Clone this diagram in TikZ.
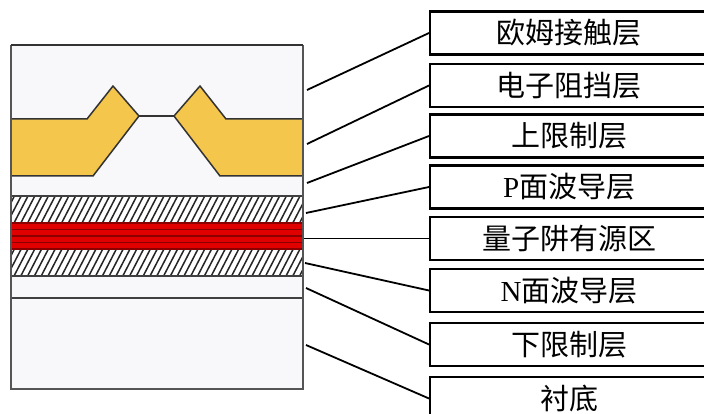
\documentclass[tikz,border=0pt]{standalone}
\usepackage{fontspec}
\newfontfamily\cjk{Noto Sans CJK SC}
\newfontfamily\latinserif{Liberation Serif}
\definecolor{layerbg}{HTML}{F8F8FA}
\definecolor{metal}{HTML}{F5C64C}
\definecolor{qwred}{HTML}{E00000}
\definecolor{qwdark}{HTML}{8A0000}
\definecolor{edgegray}{HTML}{555555}
\begin{document}
\begin{tikzpicture}[x=1pt,y=-1pt,
  labelbox/.style={draw=black, line width=2.4pt, fill=white, minimum width=278pt,
    minimum height=43pt, inner sep=0pt, anchor=west,
    font=\fontsize{29}{29}\selectfont\cjk},
  leader/.style={draw=black, line width=1.8pt},
  outline/.style={draw=black!80, line width=1.5pt, line join=round},
  hatchline/.style={draw=black!85, line width=1.5pt},
  layerline/.style={draw=black!75, line width=1.5pt}]
\clip (0,0) rectangle (704,414);
\fill[white] (0,0) rectangle (704,414);

% ---- epitaxial stack ----
\fill[layerbg] (11,45) rectangle (303,389);

% hatched waveguide layers
\foreach \ytop/\ybot in {196/223, 249/276}{
  \begin{scope}
    \clip (11,\ytop) rectangle (303,\ybot);
    \fill[white] (11,\ytop) rectangle (303,\ybot);
    \foreach \x in {-20,-13.2,...,320}{
      \draw[hatchline] (\x,\ybot) -- ({\x+14},\ytop);
    }
  \end{scope}
}

% quantum well active region
\fill[qwred] (11,223) rectangle (303,249);
\foreach \y in {223,229.5,236,242.5,249}{
  \draw[qwdark, line width=1.4pt] (11,\y) -- (303,\y);
}

% layer boundaries
\draw[layerline] (11,196) -- (303,196);
\draw[layerline] (11,276) -- (303,276);
\draw[layerline] (11,298) -- (303,298);

% ridge with contact metal
\filldraw[fill=metal, outline] (11,119) -- (87,119) -- (113,86) -- (139,116)
  -- (93,176) -- (11,176);
\filldraw[fill=metal, outline] (303,119) -- (226,119) -- (200,86) -- (174,116)
  -- (220,176) -- (303,176);
\draw[outline] (139,116) -- (174,116);

% outer frame
\draw[edgegray, line width=1.4pt] (11,45) -- (11,389) -- (303,389) -- (303,45);
\draw[black!80, line width=2.2pt] (11,45) -- (303,45);

% ---- label boxes ----
\node[labelbox] (b1) at (429,33)    {欧姆接触层};
\node[labelbox] (b2) at (429,85.5)  {电子阻挡层};
\node[labelbox] (b3) at (429,136)   {上限制层};
\node[labelbox] (b4) at (429,187)   {{\latinserif P}面波导层};
\node[labelbox] (b5) at (429,238.5) {量子阱有源区};
\node[labelbox] (b6) at (429,290.5) {{\latinserif N}面波导层};
\node[labelbox] (b7) at (429,344.5) {下限制层};
\node[labelbox] (b8) at (429,398.5) {衬底};

% ---- leader lines ----
\coordinate (s1) at (307,90);
\coordinate (s2) at (307,144);
\coordinate (s3) at (307,183);
\coordinate (s4) at (306,213);
\coordinate (s5) at (304,238.5);
\coordinate (s6) at (305,263);
\coordinate (s7) at (306,288);
\coordinate (s8) at (306,345);
\foreach \i in {1,...,8}{
  \draw[leader] (s\i) -- (b\i.west);
}
\end{tikzpicture}
\end{document}
